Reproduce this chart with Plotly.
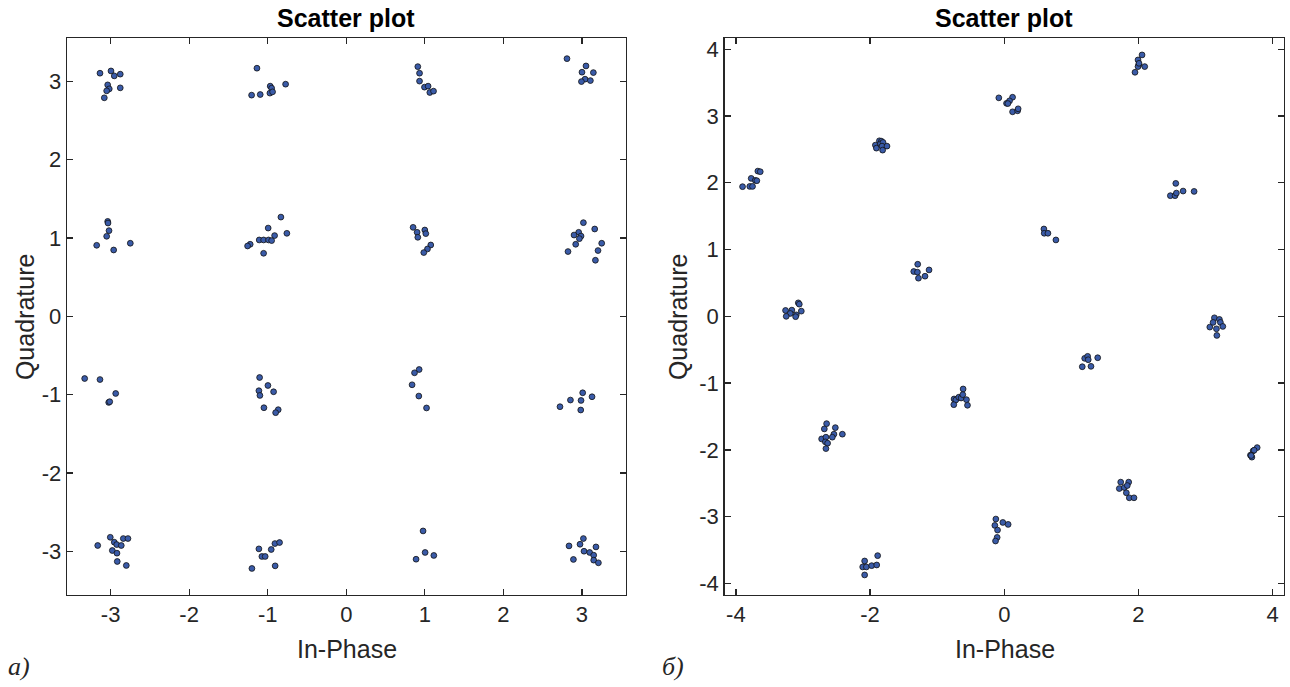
import plotly.graph_objects as go

# ---- data: left panel (16-QAM, in-phase / quadrature) ----
left_I = [
    -3.135, -2.995, -2.953, -2.877, -3.037, -3.017, -3.050, -2.877, -3.080,
    -1.137, -1.205, -1.095, -0.968, -0.950, -0.972, -0.938, -0.772,
    -3.037, -3.033, -3.020, -3.050, -3.177, -2.961, -2.749,
    -0.832, -0.994, -0.756, -0.912, -1.108, -1.052, -0.989, -0.950, -1.223, -1.256, -1.052,
    0.911, 0.933, 0.933, 0.996, 1.042, 1.064, 1.111,
    2.810, 3.052, 3.001, 3.146, 3.040, 2.994, 3.108,
    0.851, 0.902, 1.000, 1.013, 0.911, 1.076, 1.034, 0.987,
    3.019, 3.163, 2.959, 2.900, 2.989, 2.968, 3.252, 2.921, 3.205, 2.823, 3.172,
    -3.330, -3.135, -2.935, -3.024, -3.011,
    -1.103, -0.997, -1.112, -1.099, -0.925, -1.048, -0.866, -0.899,
    -3.004, -2.838, -2.779, -3.164, -2.953, -2.922, -2.864, -2.978, -2.919, -2.915, -2.800,
    -0.908, -0.849, -1.112, -0.955, -1.074, -1.032, -0.905, -1.201,
    0.928, 0.869, 0.838, 0.924, 1.022,
    3.010, 3.129, 2.854, 2.989, 2.721, 2.985,
    0.978, 1.004, 1.115, 0.889,
    3.019, 2.836, 2.976, 3.179, 3.027, 3.099, 3.150, 2.892, 3.150, 3.210,
]
left_Q = [
    3.104, 3.133, 3.070, 3.092, 2.955, 2.904, 2.879, 2.917, 2.790,
    3.168, 2.824, 2.832, 2.939, 2.913, 2.850, 2.866, 2.964,
    1.212, 1.191, 1.094, 1.022, 0.907, 0.847, 0.933,
    1.267, 1.127, 1.060, 1.031, 0.975, 0.975, 0.975, 0.967, 0.920, 0.898, 0.805,
    3.188, 3.104, 3.003, 2.926, 2.939, 2.858, 2.875,
    3.290, 3.197, 3.117, 3.112, 3.028, 2.997, 3.010,
    1.136, 1.073, 1.102, 1.056, 1.009, 0.911, 0.860, 0.814,
    1.196, 1.115, 1.073, 1.038, 1.025, 0.992, 0.933, 0.920, 0.840, 0.827, 0.716,
    -0.794, -0.807, -0.985, -1.099, -1.090,
    -0.781, -0.883, -0.950, -1.010, -0.963, -1.167, -1.192, -1.230,
    -2.821, -2.837, -2.837, -2.926, -2.884, -2.914, -2.926, -2.990, -3.024, -3.130, -3.181,
    -2.901, -2.888, -2.969, -2.977, -3.066, -3.066, -3.186, -3.219,
    -0.679, -0.721, -0.874, -1.018, -1.170,
    -0.976, -1.027, -1.069, -1.074, -1.154, -1.196,
    -2.740, -3.015, -3.053, -3.101,
    -2.837, -2.931, -2.910, -2.944, -2.999, -3.015, -3.050, -3.104, -3.113, -3.147,
]

# ---- data: right panel (rotated constellation) ----
right_I = [
    -3.901, -3.793, -3.752, -3.772, -3.712, -3.688, -3.673, -3.637,
    -1.921, -1.906, -1.861, -1.831, -1.846, -1.807, -1.822, -1.748, -1.813,
    -1.290, -1.349, -1.294, -1.121, -1.181, -1.279,
    -3.260, -3.166, -3.070, -3.055, -3.025, -3.190, -3.100, -3.250, -3.110,
    -2.682, -2.648, -2.518, -2.722, -2.658, -2.539, -2.563, -2.413, -2.667, -2.633, -2.658,
    -2.081, -1.887, -2.110, -2.055, -1.976, -1.901, -2.081,
    -0.613, -0.748, -0.722, -0.678, -0.643, -0.618, -0.563, -0.752, -0.548,
    -0.125, -0.021, -0.140, -0.100, -0.106, -0.130, 0.058,
    2.054, 1.994, 2.004, 1.994, 2.094, 1.949, 2.009,
    -0.081, 0.034, 0.124, 0.079, 0.054, 0.124, 0.199, 0.207,
    2.557, 2.476, 2.546, 2.566, 2.666, 2.830,
    0.591, 0.596, 0.651, 0.770,
    3.133, 3.064, 3.113, 3.207, 3.222, 3.258, 3.163, 3.169,
    1.199, 1.243, 1.252, 1.393, 1.163, 1.293,
    3.770, 3.710, 3.725, 3.670, 3.691, 3.681,
    1.736, 1.855, 1.715, 1.790, 1.834, 1.820, 1.864, 1.934,
]
right_Q = [
    1.942, 1.946, 1.946, 2.066, 2.036, 2.031, 2.175, 2.166,
    2.564, 2.519, 2.629, 2.623, 2.584, 2.604, 2.549, 2.549, 2.489,
    0.780, 0.671, 0.661, 0.695, 0.601, 0.571,
    0.088, 0.093, 0.202, 0.182, 0.078, 0.043, 0.022, 0.000, -0.005,
    -1.686, -1.607, -1.667, -1.836, -1.810, -1.765, -1.810, -1.765, -1.880, -1.900, -1.981,
    -3.664, -3.584, -3.753, -3.753, -3.734, -3.724, -3.873,
    -1.088, -1.238, -1.253, -1.212, -1.223, -1.173, -1.248, -1.323, -1.332,
    -3.036, -3.087, -3.131, -3.201, -3.311, -3.365, -3.116,
    3.915, 3.840, 3.765, 3.740, 3.740, 3.655, 3.789,
    3.272, 3.190, 3.281, 3.227, 3.187, 3.063, 3.078, 3.108,
    1.991, 1.807, 1.807, 1.846, 1.876, 1.871,
    1.308, 1.244, 1.244, 1.144,
    -0.022, -0.161, -0.091, -0.046, -0.091, -0.151, -0.187, -0.286,
    -0.629, -0.599, -0.650, -0.620, -0.755, -0.749,
    -1.966, -2.015, -2.005, -2.079, -2.109, -2.085,
    -2.483, -2.483, -2.579, -2.564, -2.534, -2.643, -2.718, -2.718,
]

left_ticks = [-3, -2, -1, 0, 1, 2, 3]
left_ticklabels = ["-3", "-2", "-1", "0", "1", "2", "3"]
right_xticks = [-4, -2, 0, 2, 4]
right_xticklabels = ["-4", "-2", "0", "2", "4"]
right_yticks = [-4, -3, -2, -1, 0, 1, 2, 3, 4]
right_yticklabels = ["-4", "-3", "-2", "-1", "0", "1", "2", "3", "4"]

W, H = 1290, 687
FONT = "Liberation Sans, Arial, Helvetica, sans-serif"
AX_COLOR = "#262626"

marker = dict(size=5.8, color="#3a5ba8", line=dict(color="#111111", width=0.8))

fig = go.Figure()
fig.add_trace(go.Scatter(x=left_I, y=left_Q, mode="markers", marker=marker,
                         xaxis="x", yaxis="y", showlegend=False))
fig.add_trace(go.Scatter(x=right_I, y=right_Q, mode="markers", marker=marker,
                         xaxis="x2", yaxis="y2", showlegend=False))

def axis_style(**kw):
    d = dict(showgrid=False, zeroline=False, showline=True, linecolor=AX_COLOR,
             linewidth=1.3, mirror="ticks", ticks="inside", ticklen=6, tickwidth=1.3,
             tickcolor=AX_COLOR, tickfont=dict(family=FONT, size=22, color=AX_COLOR))
    d.update(kw)
    return d

# pixel-based domains
lx0, lx1 = 67 / W, 625.5 / W
rx0, rx1 = 724.5 / W, 1284 / W
y0, y1 = 1 - 595.5 / H, 1 - 37 / H

fig.update_layout(
    width=W, height=H,
    margin=dict(l=0, r=0, t=0, b=0),
    paper_bgcolor="white", plot_bgcolor="white",
    hovermode=False,
    xaxis=axis_style(domain=[lx0, lx1], range=[-3.555, 3.555], tickvals=left_ticks,
                     ticktext=left_ticklabels, anchor="y"),
    yaxis=axis_style(domain=[y0, y1], range=[-3.555, 3.555], tickvals=left_ticks,
                     ticktext=left_ticklabels, anchor="x"),
    xaxis2=axis_style(domain=[rx0, rx1], range=[-4.17, 4.17], tickvals=right_xticks,
                      ticktext=right_xticklabels, anchor="y2"),
    yaxis2=axis_style(domain=[y0, y1], range=[-4.17, 4.17], tickvals=right_yticks,
                      ticktext=right_yticklabels, anchor="x2"),
)

ann = []
def add_text(text, x, y, size, bold=False, angle=0, family=FONT, italic=False):
    t = f"<b>{text}</b>" if bold else text
    if italic:
        t = f"<i>{t}</i>"
    ann.append(dict(text=t, x=x / W, y=1 - y / H, xref="paper", yref="paper",
                    showarrow=False, textangle=angle, xanchor="center", yanchor="middle",
                    font=dict(family=family, size=size, color="#000000" if bold else AX_COLOR)))

add_text("Scatter plot", 346, 17, 25, bold=True)
add_text("Scatter plot", 1004, 17, 25, bold=True)
add_text("In-Phase", 347, 650, 25)
add_text("In-Phase", 1005, 650, 25)
add_text("Quadrature", 25, 317, 25, angle=-90)
add_text("Quadrature", 678, 317, 25, angle=-90)
add_text("а)", 19, 667, 26, family="Liberation Serif, DejaVu Serif, serif", italic=True)
add_text("б)", 673, 667, 26, family="Liberation Serif, DejaVu Serif, serif", italic=True)

fig.update_layout(annotations=ann)
fig.write_html("out.html", config={"displayModeBar": False, "staticPlot": True},
               post_script="document.body.style.margin='0';document.body.style.overflow='hidden';")
